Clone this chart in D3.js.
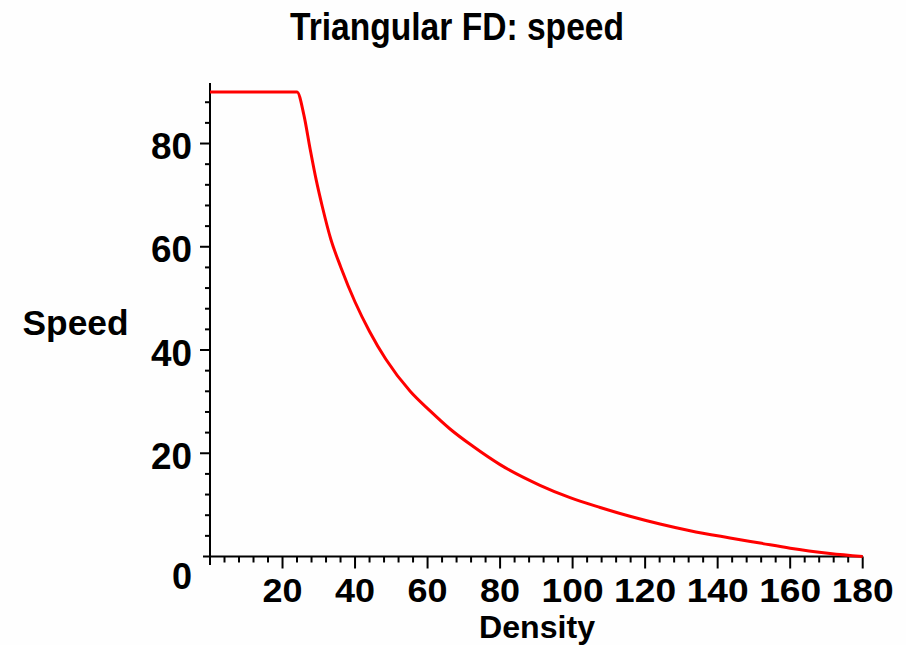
<!DOCTYPE html>
<html>
<head>
<meta charset="utf-8">
<script src="https://cdn.jsdelivr.net/npm/d3@7"></script>
<style>
  body { margin: 0; background: #fefefe; }
  svg { display: block; }
  .lbl { font-family: "Liberation Sans", Arial, sans-serif; font-weight: bold; fill: #000; }
</style>
</head>
<body>
<div id="chart"></div>
<script>
// values
var density = [0, 24, 25.9, 27.6, 29.3, 31, 33.3, 36.1, 40, 44, 48.5, 55.2, 60.7, 66.2, 72.6, 80, 91, 99.3, 107.6, 115.8, 124.1, 132.4, 143.4, 151.7, 160, 171, 180];
var speed   = [90, 90, 85.5, 79, 72.9, 67.7, 61.5, 56, 49.3, 43.6, 38.2, 32, 28.2, 24.7, 21.3, 17.8, 13.8, 11.4, 9.5, 7.8, 6.3, 5.0, 3.6, 2.6, 1.6, 0.6, 0];
var xTicks = [20, 40, 60, 80, 100, 120, 140, 160, 180];
var yTicks = [20, 40, 60, 80];

var W = 906, H = 645;
var svg = d3.select("#chart").append("svg").attr("width", W).attr("height", H);

var x = d3.scaleLinear().domain([0, 180]).range([210, 862.7]);
var y = d3.scaleLinear().domain([0, 90]).range([556.5, 91.9]);

var data = density.map(function(d, i) { return { d: d, s: speed[i] }; });

// minor ticks every 4
var xMinor = d3.range(0, 181, 4).filter(function(v) { return v % 20 != 0; });
var yMinor = d3.range(0, 92, 4).filter(function(v) { return v % 20 != 0; });

// axes lines
svg.append("line").attr("x1", x(0)).attr("x2", x(0)).attr("y1", y(91.7)).attr("y2", 565)
  .attr("stroke", "#000").attr("stroke-width", 2);
svg.append("line").attr("x1", 203).attr("x2", x(180)).attr("y1", y(0)).attr("y2", y(0))
  .attr("stroke", "#000").attr("stroke-width", 2);

// x ticks
svg.selectAll(".xmaj").data(xTicks).enter().append("line")
  .attr("x1", function(d) { return x(d); }).attr("x2", function(d) { return x(d); })
  .attr("y1", y(0)).attr("y2", y(0) + 12).attr("stroke", "#000").attr("stroke-width", 2);
svg.selectAll(".xmin").data(xMinor).enter().append("line")
  .attr("x1", function(d) { return x(d); }).attr("x2", function(d) { return x(d); })
  .attr("y1", y(0)).attr("y2", y(0) + 6).attr("stroke", "#000").attr("stroke-width", 2);

// y ticks
svg.selectAll(".ymaj").data(yTicks).enter().append("line")
  .attr("x1", x(0) - 10).attr("x2", x(0))
  .attr("y1", function(d) { return y(d); }).attr("y2", function(d) { return y(d); })
  .attr("stroke", "#000").attr("stroke-width", 2);
svg.selectAll(".ymin").data(yMinor).enter().append("line")
  .attr("x1", x(0) - 5).attr("x2", x(0))
  .attr("y1", function(d) { return y(d); }).attr("y2", function(d) { return y(d); })
  .attr("stroke", "#000").attr("stroke-width", 2);

// tick labels (narrow, like the original bitmap font)
svg.selectAll(".xl").data(xTicks).enter().append("text").attr("class", "lbl")
  .attr("x", function(d) { return x(d); }).attr("y", 602)
  .attr("text-anchor", "middle").attr("font-size", 34)
  .attr("textLength", function(d) { return d >= 100 ? 62 : 40; })
  .attr("lengthAdjust", "spacingAndGlyphs")
  .text(function(d) { return d; });
svg.selectAll(".yl").data(yTicks).enter().append("text").attr("class", "lbl")
  .attr("x", 192).attr("y", function(d) { return y(d) + 15.5; })
  .attr("text-anchor", "end").attr("font-size", 37)
  .attr("textLength", 41).attr("lengthAdjust", "spacingAndGlyphs")
  .text(function(d) { return d; });
svg.append("text").attr("class", "lbl").attr("x", 182).attr("y", 589)
  .attr("text-anchor", "middle").attr("font-size", 36).text("0");

// titles
svg.append("text").attr("class", "lbl").attr("x", 457).attr("y", 40)
  .attr("text-anchor", "middle").attr("font-size", 38)
  .attr("textLength", 334).attr("lengthAdjust", "spacingAndGlyphs")
  .text("Triangular FD: speed");
svg.append("text").attr("class", "lbl").attr("x", 75.5).attr("y", 335)
  .attr("text-anchor", "middle").attr("font-size", 35)
  .attr("textLength", 106).attr("lengthAdjust", "spacingAndGlyphs")
  .text("Speed");
svg.append("text").attr("class", "lbl").attr("x", 537).attr("y", 638)
  .attr("text-anchor", "middle").attr("font-size", 32)
  .attr("textLength", 116).attr("lengthAdjust", "spacingAndGlyphs")
  .text("Density");

// curve
svg.append("path").datum(data)
  .attr("fill", "none").attr("stroke", "#ff0000").attr("stroke-width", 3)
  .attr("d", d3.line()
    .x(function(d) { return x(d.d); })
    .y(function(d) { return y(d.s); })
    .curve(d3.curveMonotoneX));
</script>
</body>
</html>
